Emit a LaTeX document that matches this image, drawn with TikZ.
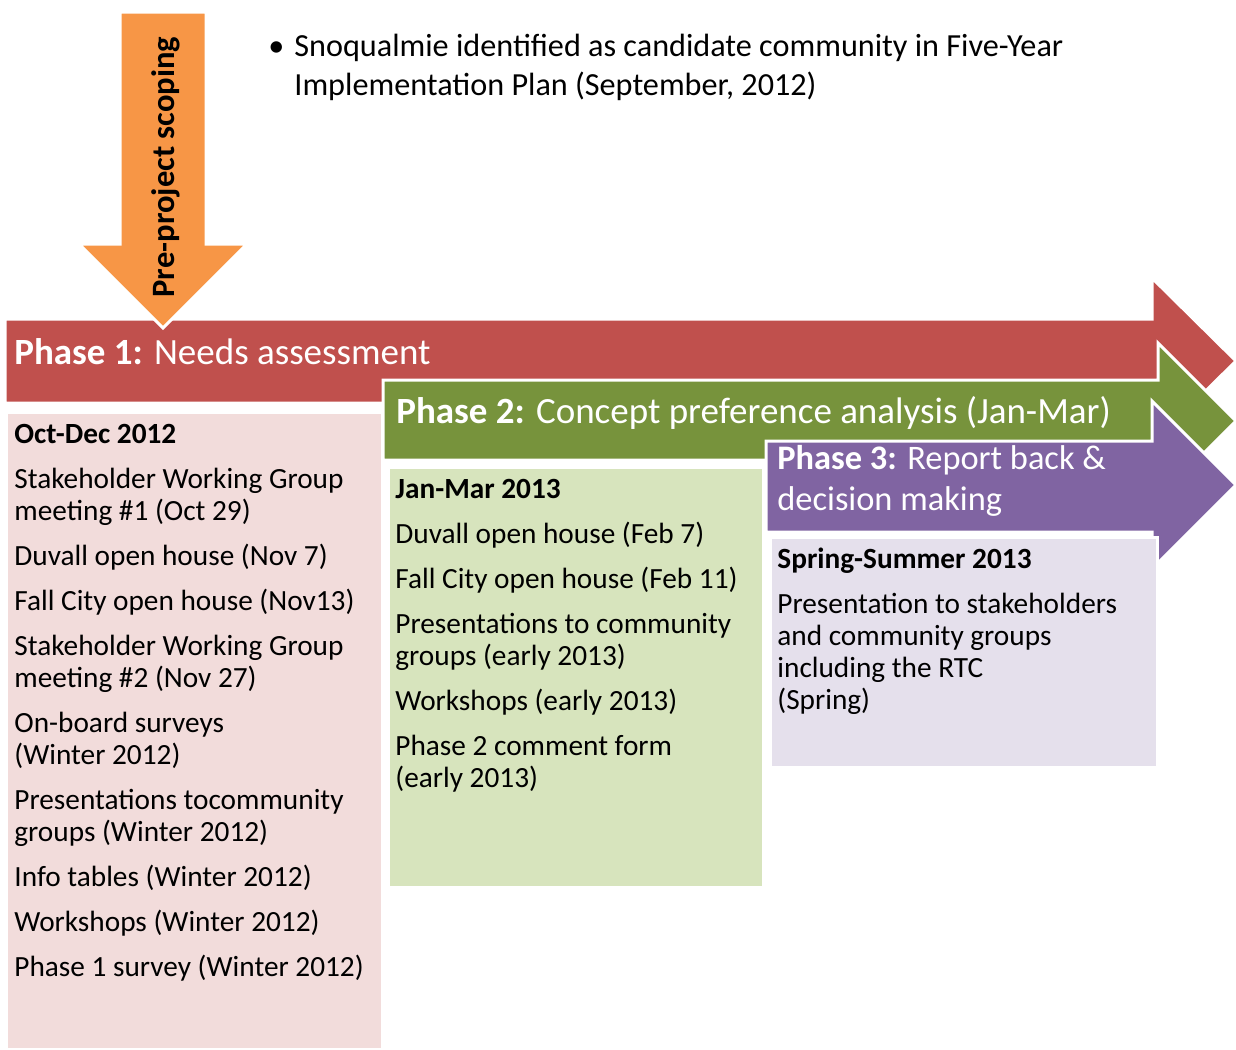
\documentclass[tikz,border=0pt]{standalone}
\usepackage{fontspec}
\setmainfont{Carlito}
\definecolor{redphase}{HTML}{C0504D}
\definecolor{greenphase}{HTML}{77933C}
\definecolor{purplephase}{HTML}{8064A2}
\definecolor{orangescope}{HTML}{F79646}
\definecolor{redlight}{HTML}{F2DCDB}
\definecolor{greenlight}{HTML}{D7E4BD}
\definecolor{purplelight}{HTML}{E5E0EC}
\newcommand{\itemgap}{\\[6.5pt]}
\newcommand{\firstline}[1]{\rule{0pt}{#1}}
\tikzset{
  phaseshape/.style={draw=white, line width=1.5pt},
  phasetitle/.style={anchor=north west, inner sep=0pt, align=left, text=white,
    font=\fontsize{18.5}{20.5}\selectfont},
  listtext/.style={anchor=north west, inner sep=0pt, align=left,
    font=\fontsize{14.65}{16}\selectfont},
}
\begin{document}
\begin{tikzpicture}[x=0.5pt, y=-0.5pt]
    \useasboundingbox (0,0) rectangle (1236,1049);
    % phase 1
    \filldraw[phaseshape, fill=redphase] (5,319) -- (1152,319) -- (1152,278) -- (1236,361)
        -- (1152,444) -- (1152,403) -- (5,403) -- cycle;
    \filldraw[phaseshape, fill=orangescope] (120,12) -- (206,12) -- (206,244) -- (247,244)
        -- (163,328) -- (79,244) -- (120,244) -- cycle;
    \filldraw[phaseshape, fill=redlight] (6,412) rectangle (382,1049);
    % phase 2
    \filldraw[phaseshape, fill=greenphase] (383,380) -- (1158,380) -- (1158,343) -- (1236,421)
        -- (1158,499) -- (1158,460) -- (383,460) -- cycle;
    \filldraw[phaseshape, fill=greenlight] (388,467) rectangle (763,887);
    % phase 3
    \filldraw[phaseshape, fill=purplephase] (766,441) -- (1152,441) -- (1152,401) -- (1236,485)
        -- (1152,569) -- (1152,532) -- (766,532) -- cycle;
    \filldraw[phaseshape, fill=purplelight] (770,537) rectangle (1157,767);

    \node[rotate=90, font=\fontsize{16.3}{19}\selectfont\bfseries] (scoping) at (166,167) {Pre-project scoping};
    \node[listtext, font=\fontsize{16.1}{19.5}\selectfont] (note) at (294,26)
        {\firstline{15pt}\llap{\textbullet\hspace{5pt}}Snoqualmie identified as candidate community in Five-Year\\
         Implementation Plan (September, 2012)};

    \node[phasetitle] (p1title) at (14,334) {\firstline{15pt}\textbf{Phase 1:} Needs assessment};
    \node[phasetitle] (p2title) at (396,393) {\firstline{15pt}\textbf{Phase 2:} Concept preference analysis (Jan-Mar)};
    \node[phasetitle, font=\fontsize{17.2}{20.5}\selectfont] (p3title) at (777,439)
        {\firstline{15pt}\textbf{Phase 3:} Report back \&\\decision making};

    \node[listtext] (p1list) at (14,412) {\firstline{15.5pt}\textbf{Oct-Dec 2012}\itemgap
        Stakeholder Working Group\\meeting \#1 (Oct 29)\itemgap
        Duvall open house (Nov 7)\itemgap
        Fall City open house (Nov13)\itemgap
        Stakeholder Working Group\\meeting \#2 (Nov 27)\itemgap
        On-board surveys\\(Winter 2012)\itemgap
        Presentations tocommunity\\groups (Winter 2012)\itemgap
        Info tables (Winter 2012)\itemgap
        Workshops (Winter 2012)\itemgap
        Phase 1 survey (Winter 2012)};
    \node[listtext] (p2list) at (395,467) {\firstline{15.5pt}\textbf{Jan-Mar 2013}\itemgap
        Duvall open house (Feb 7)\itemgap
        Fall City open house (Feb 11)\itemgap
        Presentations to community\\groups (early 2013)\itemgap
        Workshops (early 2013)\itemgap
        Phase 2 comment form\\(early 2013)};
    \node[listtext] (p3list) at (777,537) {\firstline{15.5pt}\textbf{Spring-Summer 2013}\itemgap
        Presentation to stakeholders\\and community groups\\including the RTC\\(Spring)};
\end{tikzpicture}
\end{document}
